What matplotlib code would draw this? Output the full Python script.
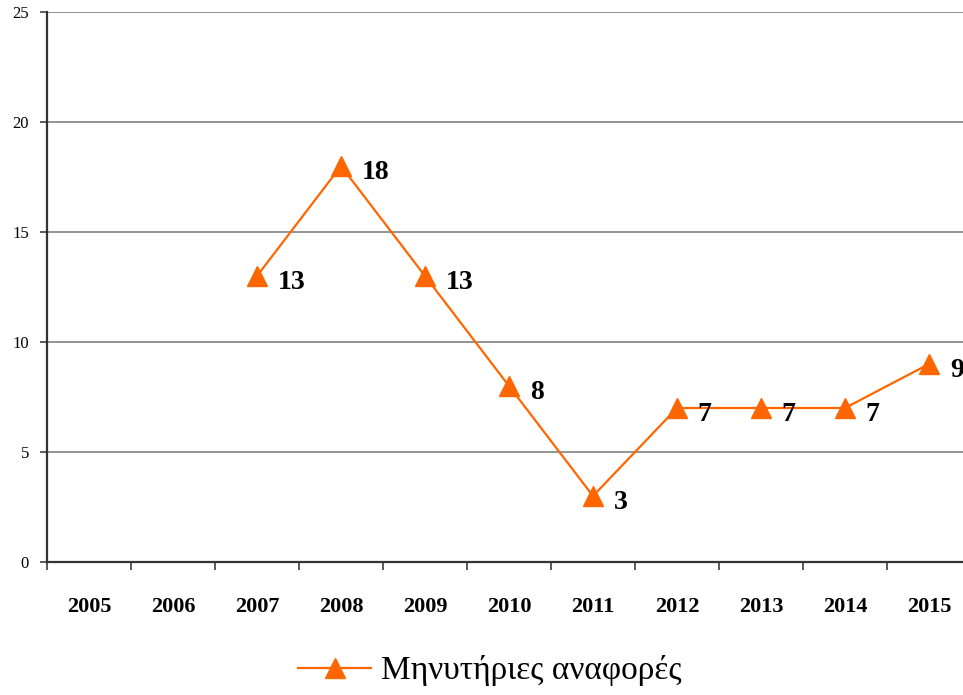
import numpy as np
import matplotlib.pyplot as plt
from matplotlib.ticker import FixedLocator

years = ['2005', '2006', '2007', '2008', '2009', '2010', '2011', '2012', '2013', '2014', '2015']
values = [np.nan, np.nan, 13, 18, 13, 8, 3, 7, 7, 7, 9]
series_name = 'Μηνυτήριες αναφορές'

plt.rcParams['font.family'] = ['Liberation Serif', 'DejaVu Serif']

fig = plt.figure(figsize=(9.63, 6.95), dpi=100)
ax = fig.add_axes([47 / 963, 1 - 562 / 695, 924 / 963, 550 / 695])

x = np.arange(len(years))
orange = '#FF6600'
ax.plot(x, values, color=orange, lw=1.6, marker='^', ms=15, mec=orange, mfc=orange,
        label=series_name, clip_on=False, zorder=3)

# data labels
for xi, v in zip(x, values):
    if np.isnan(v):
        continue
    ax.annotate('%d' % v, (xi, v), xytext=(15, -5), textcoords='offset points',
                ha='left', va='center', fontsize=20, fontweight='bold',
                annotation_clip=False)

ax.set_xlim(-0.5, len(years) - 0.5)
ax.set_ylim(0, 25)
ax.set_yticks(range(0, 26, 5))
ax.yaxis.grid(True, color='#808080', lw=1.2)
ax.set_axisbelow(True)

# ticks on category boundaries, labels in the middle
ax.xaxis.set_major_locator(FixedLocator(np.arange(-0.5, len(years), 1.0)))
ax.xaxis.set_minor_locator(FixedLocator(x))
ax.set_xticklabels([])
ax.set_xticklabels(years, minor=True, fontsize=16, fontweight='bold')
ax.tick_params(axis='x', which='major', direction='out', length=6, width=1.2, color='#404040')
ax.tick_params(axis='x', which='minor', length=0, pad=25)
ax.tick_params(axis='y', direction='out', length=5, width=1.2, color='#404040', labelsize=12, pad=8)

for s in ['top', 'right']:
    ax.spines[s].set_visible(False)
ax.spines['left'].set_color('#333333')
ax.spines['left'].set_linewidth(1.6)
ax.spines['bottom'].set_color('#333333')
ax.spines['bottom'].set_linewidth(1.6)

fig.legend(loc='center', bbox_to_anchor=(490 / 963, 1 - 671 / 695), frameon=False,
           fontsize=24, handlelength=2.2, handletextpad=0.3)

fig.savefig('out.png', dpi=100)
